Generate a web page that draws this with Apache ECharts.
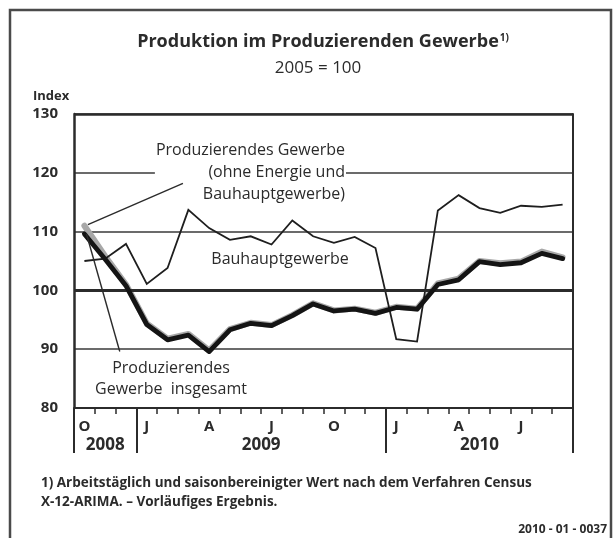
<!DOCTYPE html>
<html><head><meta charset="utf-8">
<script src="https://cdn.jsdelivr.net/npm/echarts@6/dist/echarts.min.js"></script>
<style>html,body{margin:0;padding:0;background:#fff}#c{width:615px;height:538px}</style>
</head><body><div id="c"></div>
<script>
// ---- data ----
const months = ['2008-10','2008-11','2008-12','2009-01','2009-02','2009-03','2009-04','2009-05','2009-06','2009-07','2009-08','2009-09','2009-10','2009-11','2009-12','2010-01','2010-02','2010-03','2010-04','2010-05','2010-06','2010-07','2010-08','2010-09'];
const monthLetters = ['O','N','D','J','F','M','A','M','J','J','A','S','O','N','D','J','F','M','A','M','J','J','A','S'];
const years = ['2008','2009','2010'];
const monthsPerYear = [3, 12, 9];
const yTicks = [80, 90, 100, 110, 120, 130];
const bauhauptgewerbe = [105.0,105.4,107.9,101.1,103.8,113.7,110.6,108.6,109.2,107.8,111.9,109.2,108.1,109.1,107.2,91.7,91.3,113.6,116.2,114.0,113.2,114.4,114.2,114.6];
const ohneEnergieBau = [111.0,105.8,101.0,94.4,91.8,92.6,89.8,93.4,94.5,94.1,95.8,97.8,96.6,96.9,96.2,97.2,96.9,101.2,102.0,105.0,104.6,104.9,106.6,105.6];
const insgesamt = [109.6,105.3,100.8,94.2,91.6,92.4,89.6,93.3,94.4,94.0,95.7,97.7,96.5,96.8,96.1,97.1,96.8,101.0,101.8,104.9,104.4,104.7,106.3,105.4];

// year boundaries / centres derived from month counts
const yearBounds = [0];
monthsPerYear.forEach(n => yearBounds.push(yearBounds[yearBounds.length - 1] + n));
const yearCentres = monthsPerYear.map((n, i) => yearBounds[i] + n / 2);

const FONT = 'Open Sans';
const INK = '#2b2b2b';

const chart = echarts.init(document.getElementById('c'), null, {renderer: 'canvas'});
chart.setOption({
  animation: false,
  backgroundColor: '#fff',
  textStyle: {fontFamily: FONT},
  title: [{
    text: '{t|Produktion im Produzierenden Gewerbe}{s|1)}',
    left: 318, textAlign: 'center', top: 28,
    textStyle: {rich: {
      t: {fontFamily: FONT, fontWeight: 'bold', fontSize: 18, color: INK},
      s: {fontFamily: FONT, fontWeight: 'bold', fontSize: 10, color: INK, verticalAlign: 'top', padding: [0,0,8,1]}
    }}
  }, {
    text: '2005 = 100', left: 313, textAlign: 'center', top: 55,
    textStyle: {fontFamily: FONT, fontWeight: 'normal', fontSize: 17, color: INK}
  }],
  grid: {left: 74, right: 42, top: 114, bottom: 130, containLabel: false},
  xAxis: [{
    type: 'category', data: months, boundaryGap: true,
    axisLine: {show: true, lineStyle: {color: INK, width: 2}},
    axisTick: {show: true, interval: 0, length: 6, lineStyle: {color: INK, width: 1.5}},
    axisLabel: {
      interval: idx => idx % 3 === 0,
      formatter: (v, idx) => monthLetters[idx],
      fontFamily: FONT, fontWeight: 'bold', fontSize: 15, color: INK, margin: 11
    },
    splitLine: {show: false}
  }, {
    type: 'value', min: 0, max: yearBounds[yearBounds.length - 1], position: 'bottom',
    axisLine: {show: false},
    axisTick: {show: true, customValues: yearBounds, length: 45, lineStyle: {color: INK, width: 2}},
    axisLabel: {
      customValues: yearCentres,
      formatter: v => years[yearCentres.indexOf(v)],
      fontFamily: FONT, fontWeight: 'bold', fontSize: 17, color: INK, margin: 29
    },
    splitLine: {show: false}
  }],
  yAxis: [{
    type: 'value', min: yTicks[0], max: yTicks[yTicks.length - 1], interval: 10,
    axisLine: {show: true, lineStyle: {color: INK, width: 2.5}},
    axisTick: {show: false},
    axisLabel: {fontFamily: FONT, fontWeight: 'bold', fontSize: 15, color: INK, margin: 16},
    splitLine: {show: true, lineStyle: {color: '#3a3a3a', width: 1.5}}
  }, {
    type: 'value', min: yTicks[0], max: yTicks[yTicks.length - 1], position: 'right',
    axisLine: {show: true, lineStyle: {color: INK, width: 2}},
    axisTick: {show: false}, axisLabel: {show: false}, splitLine: {show: false}
  }],
  series: [{
    name: 'Produzierendes Gewerbe (ohne Energie und Bauhauptgewerbe)',
    type: 'line', data: ohneEnergieBau, symbol: 'none', z: 3,
    lineStyle: {color: '#a8a8a8', width: 6, join: 'round', cap: 'round'},
    markLine: {
      silent: true, symbol: 'none', label: {show: false},
      lineStyle: {color: INK, type: 'solid'},
      data: [{yAxis: 100, lineStyle: {width: 3}}, {yAxis: 130, lineStyle: {width: 2.5}}]
    }
  }, {
    name: 'Bauhauptgewerbe',
    type: 'line', data: bauhauptgewerbe, symbol: 'none', z: 4,
    lineStyle: {color: '#1e1e1e', width: 1.8, join: 'miter'}
  }, {
    name: 'Produzierendes Gewerbe insgesamt',
    type: 'line', data: insgesamt, symbol: 'none', z: 5,
    lineStyle: {color: '#141414', width: 4.8, join: 'round', cap: 'round'}
  }, {
    name: 'leader1', type: 'line', xAxisIndex: 1, silent: true, symbol: 'none', z: 6,
    data: [[0.67, 111.2], [5.24, 118.2]],
    lineStyle: {color: INK, width: 1.4}
  }, {
    name: 'leader2', type: 'line', xAxisIndex: 1, silent: true, symbol: 'none', z: 6,
    data: [[0.6, 109.6], [2.2, 89.6]],
    lineStyle: {color: INK, width: 1.4}
  }],
  graphic: [{
    type: 'rect', z: 100, silent: true,
    shape: {x: 10, y: 10, width: 601, height: 560},
    style: {fill: 'none', stroke: '#4a4a4a', lineWidth: 2.5}
  }, {
    type: 'text', left: 33, top: 90, z: 10,
    style: {text: 'Index', fontFamily: FONT, fontWeight: 'bold', fontSize: 13, fill: INK}
  }, {
    type: 'text', x: 346, y: 139, z: 1,
    style: {
      text: 'Produzierendes Gewerbe\n(ohne Energie und\nBauhauptgewerbe)',
      align: 'right', verticalAlign: 'top', lineHeight: 22,
      fontFamily: FONT, fontSize: 16, fill: INK,
      backgroundColor: '#fff', padding: [0, 1, 0, 1]
    }
  }, {
    type: 'text', x: 280, y: 259, z: 10,
    style: {text: 'Bauhauptgewerbe', align: 'center', verticalAlign: 'middle', fontFamily: FONT, fontSize: 16, fill: INK}
  }, {
    type: 'text', x: 171, y: 358, z: 10,
    style: {text: 'Produzierendes\nGewerbe  insgesamt', align: 'center', verticalAlign: 'top', lineHeight: 21, fontFamily: FONT, fontSize: 16, fill: INK}
  }, {
    type: 'text', x: 41, y: 474, z: 10,
    style: {
      text: '1) Arbeitstäglich und saisonbereinigter Wert nach dem Verfahren Census\nX-12-ARIMA. – Vorläufiges Ergebnis.',
      lineHeight: 19, fontFamily: FONT, fontWeight: 'bold', fontSize: 13.5, fill: INK
    }
  }, {
    type: 'text', x: 607, y: 530, z: 10,
    style: {text: '2010 - 01 - 0037', align: 'right', verticalAlign: 'middle', fontFamily: FONT, fontWeight: 'bold', fontSize: 12, fill: INK}
  }]
});
</script>
</body></html>
